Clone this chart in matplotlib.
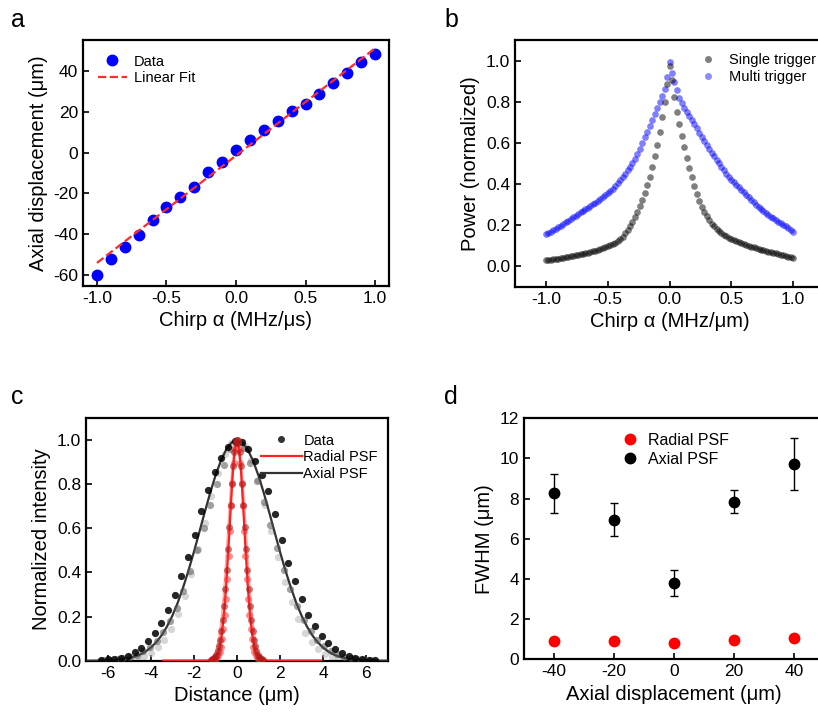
import numpy as np
import matplotlib
matplotlib.use('Agg')
from matplotlib import pyplot as plt
from matplotlib.lines import Line2D

plt.rcParams['font.family'] = ['Liberation Sans', 'DejaVu Sans']
plt.rcParams['axes.linewidth'] = 1.6
plt.rcParams['xtick.direction'] = 'in'
plt.rcParams['ytick.direction'] = 'in'
plt.rcParams['xtick.major.width'] = 1.2
plt.rcParams['ytick.major.width'] = 1.2
plt.rcParams['xtick.major.size'] = 4
plt.rcParams['ytick.major.size'] = 4

# ---- a: 轴向位移 vs 啁啾
chirp_a = [-1.0, -0.9, -0.8, -0.7, -0.6, -0.5, -0.4, -0.3, -0.2, -0.1, 0.0,
           0.1, 0.2, 0.3, 0.4, 0.5, 0.6, 0.7, 0.8, 0.9, 1.0]
disp_a = [-60.0, -52.3, -46.3, -40.3, -33.2, -26.7, -21.8, -16.9, -9.6, -4.4, 1.2,
          6.2, 11.0, 15.7, 20.6, 24.0, 28.9, 34.3, 39.0, 44.2, 48.3]
fit_x = [-1.0, 1.0]
fit_y = [-54.1, 51.1]

# ---- b: 单触发 / 多触发 归一化功率
chirp_b = np.round(np.arange(-1.0, 1.0001, 0.02), 2)
single_trig = [0.030, 0.031, 0.033, 0.035, 0.036, 0.038, 0.040, 0.042, 0.044, 0.046,
               0.049, 0.051, 0.053, 0.056, 0.058, 0.061, 0.064, 0.067, 0.070, 0.073,
               0.077, 0.080, 0.084, 0.088, 0.093, 0.098, 0.103, 0.109, 0.116, 0.124,
               0.133, 0.145, 0.160, 0.178, 0.196, 0.218, 0.240, 0.266, 0.294, 0.324,
               0.358, 0.395, 0.436, 0.482, 0.535, 0.592, 0.655, 0.725, 0.800, 0.885,
               0.975,
               0.905, 0.825, 0.750, 0.690, 0.635, 0.580, 0.528, 0.478, 0.432, 0.390,
               0.352, 0.318, 0.290, 0.265, 0.243, 0.225, 0.208, 0.194, 0.182, 0.171,
               0.162, 0.154, 0.147, 0.140, 0.134, 0.128, 0.123, 0.118, 0.113, 0.108,
               0.104, 0.100, 0.096, 0.092, 0.088, 0.085, 0.081, 0.078, 0.075, 0.072,
               0.069, 0.066, 0.063, 0.061, 0.056, 0.053, 0.050, 0.047, 0.044, 0.041]
multi_trig = [0.155, 0.162, 0.168, 0.175, 0.182, 0.190, 0.198, 0.206, 0.214, 0.222,
              0.230, 0.238, 0.246, 0.254, 0.262, 0.270, 0.278, 0.286, 0.294, 0.302,
              0.310, 0.319, 0.328, 0.337, 0.346, 0.355, 0.366, 0.378, 0.391, 0.405,
              0.420, 0.434, 0.450, 0.466, 0.482, 0.500, 0.522, 0.546, 0.572, 0.598,
              0.627, 0.655, 0.684, 0.712, 0.740, 0.768, 0.797, 0.828, 0.862, 0.920,
              0.995,
              0.940, 0.895, 0.855, 0.820, 0.792, 0.770, 0.750, 0.730, 0.710, 0.690,
              0.670, 0.650, 0.630, 0.610, 0.590, 0.572, 0.553, 0.535, 0.517, 0.500,
              0.484, 0.467, 0.451, 0.435, 0.420, 0.408, 0.396, 0.384, 0.372, 0.360,
              0.348, 0.336, 0.324, 0.312, 0.300, 0.290, 0.280, 0.270, 0.260, 0.250,
              0.242, 0.234, 0.226, 0.218, 0.210, 0.202, 0.194, 0.185, 0.176, 0.168]

# ---- c: 轴向/径向 PSF
ax_dark_x = [-6.30, -5.99, -5.68, -5.37, -5.06, -4.75, -4.44, -4.13, -3.82, -3.51,
             -3.20, -2.89, -2.58, -2.27, -1.96, -1.65, -1.34, -1.03, -0.72, -0.41,
             -0.10, 0.21, 0.52, 0.83, 1.14, 1.45, 1.76, 2.07, 2.38, 2.69,
             3.00, 3.31, 3.62, 3.93, 4.24, 4.55, 4.86, 5.17, 5.48, 5.79, 6.10, 6.41]
ax_dark_y = [0.003, 0.006, 0.009, 0.013, 0.023, 0.038, 0.058, 0.088, 0.124, 0.170,
             0.228, 0.300, 0.385, 0.472, 0.570, 0.680, 0.775, 0.855, 0.920, 0.970,
             0.995, 0.990, 0.960, 0.905, 0.840, 0.770, 0.665, 0.548, 0.445, 0.362,
             0.280, 0.205, 0.158, 0.110, 0.080, 0.052, 0.036, 0.022, 0.013, 0.008, 0.005, 0.003]
ax_mid_x = [-6.20, -5.89, -5.58, -5.27, -4.96, -4.65, -4.34, -4.03, -3.72, -3.41,
            -3.10, -2.79, -2.48, -2.17, -1.86, -1.55, -1.24, -0.93, -0.62, -0.31,
            0.00, 0.31, 0.62, 0.93, 1.24, 1.55, 1.86, 2.17, 2.48, 2.79,
            3.10, 3.41, 3.72, 4.03, 4.34, 4.65, 4.96, 5.27, 5.58, 5.89, 6.20]
ax_mid_y = [0.003, 0.005, 0.008, 0.012, 0.018, 0.028, 0.042, 0.062, 0.090, 0.128,
            0.178, 0.240, 0.318, 0.405, 0.500, 0.600, 0.705, 0.800, 0.885, 0.960,
            1.000, 0.965, 0.895, 0.815, 0.720, 0.615, 0.510, 0.412, 0.325, 0.248,
            0.185, 0.135, 0.095, 0.066, 0.045, 0.030, 0.019, 0.012, 0.008, 0.005, 0.003]
ax_light_x = [-6.15, -5.84, -5.53, -5.22, -4.91, -4.60, -4.29, -3.98, -3.67, -3.36,
              -3.05, -2.74, -2.43, -2.12, -1.81, -1.50, -1.19, -0.88, -0.57, -0.26,
              0.05, 0.36, 0.67, 0.98, 1.29, 1.60, 1.91, 2.22, 2.53, 2.84,
              3.15, 3.46, 3.77, 4.08, 4.39, 4.70, 5.01, 5.32, 5.63, 5.94, 6.25]
ax_light_y = [0.001, 0.001, 0.002, 0.003, 0.007, 0.012, 0.022, 0.037, 0.061, 0.095,
              0.144, 0.210, 0.293, 0.393, 0.506, 0.626, 0.745, 0.851, 0.935, 0.986,
              0.999, 0.973, 0.911, 0.819, 0.707, 0.587, 0.468, 0.359, 0.264, 0.187,
              0.127, 0.083, 0.052, 0.031, 0.018, 0.010, 0.005, 0.003, 0.001, 0.001, 0.001]

rad_a_x = [-1.20, -1.14, -1.08, -1.02, -0.96, -0.90, -0.84, -0.78, -0.72, -0.66,
           -0.60, -0.54, -0.48, -0.42, -0.36, -0.30, -0.24, -0.18, -0.12, -0.06,
           0.00, 0.06, 0.12, 0.18, 0.24, 0.30, 0.36, 0.42, 0.48, 0.54,
           0.60, 0.66, 0.72, 0.78, 0.84, 0.90, 0.96, 1.02, 1.08, 1.14, 1.20]
rad_a_y = [0.004, 0.007, 0.011, 0.018, 0.028, 0.044, 0.066, 0.095, 0.135, 0.186,
           0.249, 0.324, 0.411, 0.506, 0.606, 0.707, 0.801, 0.882, 0.946, 0.986,
           1.000, 0.986, 0.946, 0.882, 0.801, 0.707, 0.606, 0.506, 0.411, 0.324,
           0.249, 0.186, 0.135, 0.095, 0.066, 0.044, 0.028, 0.018, 0.011, 0.007, 0.004]
rad_b_x = [-1.17, -1.11, -1.05, -0.99, -0.93, -0.87, -0.81, -0.75, -0.69, -0.63,
           -0.57, -0.51, -0.45, -0.39, -0.33, -0.27, -0.21, -0.15, -0.09, -0.03,
           0.03, 0.09, 0.15, 0.21, 0.27, 0.33, 0.39, 0.45, 0.51, 0.57,
           0.63, 0.69, 0.75, 0.81, 0.87, 0.93, 0.99, 1.05, 1.11, 1.17]
rad_b_y = [0.001, 0.002, 0.005, 0.008, 0.015, 0.025, 0.041, 0.064, 0.098, 0.144,
           0.205, 0.281, 0.372, 0.476, 0.588, 0.700, 0.806, 0.896, 0.961, 0.996,
           0.996, 0.961, 0.896, 0.806, 0.700, 0.588, 0.476, 0.372, 0.281, 0.205,
           0.144, 0.098, 0.064, 0.041, 0.025, 0.015, 0.008, 0.005, 0.002, 0.001]

axial_fit_x = [-7.0, -6.5, -6.0, -5.75, -5.5, -5.25, -5.0, -4.75, -4.5, -4.25, -4.0,
               -3.75, -3.5, -3.25, -3.0, -2.75, -2.5, -2.25, -2.0, -1.75, -1.5,
               -1.25, -1.0, -0.75, -0.5, -0.25, 0.0, 0.25, 0.5, 0.75, 1.0,
               1.25, 1.5, 1.75, 2.0, 2.25, 2.5, 2.75, 3.0, 3.25, 3.5,
               3.75, 4.0, 4.25, 4.5, 4.75, 5.0, 5.25, 5.5, 5.75, 6.0, 6.5, 7.0]
axial_fit_y = [0.0001, 0.0006, 0.0017, 0.0029, 0.0047, 0.0076, 0.0119, 0.0184, 0.0277, 0.0408, 0.0588,
               0.083, 0.114, 0.154, 0.203, 0.262, 0.331, 0.408, 0.492, 0.581, 0.671,
               0.758, 0.838, 0.905, 0.957, 0.989, 1.0, 0.989, 0.957, 0.905, 0.838,
               0.758, 0.671, 0.581, 0.492, 0.408, 0.331, 0.262, 0.203, 0.154, 0.114,
               0.083, 0.0588, 0.0408, 0.0277, 0.0184, 0.0119, 0.0076, 0.0047, 0.0029, 0.0017, 0.0006, 0.0001]
radial_fit_x = [-3.4, -2.0, -1.5, -1.4, -1.3, -1.2, -1.1, -1.0, -0.9, -0.8, -0.7, -0.6,
                -0.5, -0.4, -0.3, -0.2, -0.1, 0.0, 0.1, 0.2, 0.3, 0.4, 0.5,
                0.6, 0.7, 0.8, 0.9, 1.0, 1.1, 1.2, 1.3, 1.4, 1.5, 2.0, 3.9]
radial_fit_y = [0.0, 0.0, 0.0, 0.0002, 0.0007, 0.002, 0.0053, 0.0132, 0.030, 0.0626, 0.120, 0.211,
                0.339, 0.500, 0.677, 0.841, 0.958, 1.0, 0.958, 0.841, 0.677, 0.500, 0.339,
                0.211, 0.120, 0.0626, 0.030, 0.0132, 0.0053, 0.002, 0.0007, 0.0002, 0.0, 0.0, 0.0]
radial_fit2_y = [0.0, 0.0, 0.0004, 0.001, 0.003, 0.007, 0.015, 0.031, 0.061, 0.109, 0.183, 0.288,
                 0.421, 0.575, 0.732, 0.871, 0.966, 1.0, 0.966, 0.871, 0.732, 0.575, 0.421,
                 0.288, 0.183, 0.109, 0.061, 0.031, 0.015, 0.007, 0.003, 0.001, 0.0004, 0.0, 0.0]

# ---- d: FWHM vs 轴向位移
disp_d = [-40, -20, 0, 20, 40]
fwhm_radial = [0.93, 0.91, 0.81, 0.95, 1.08]
fwhm_axial = [8.27, 6.95, 3.80, 7.84, 9.73]
fwhm_axial_err = [0.97, 0.82, 0.67, 0.58, 1.30]

fig = plt.figure(figsize=(8.18, 7.16), dpi=100)
tick_fs = 12.5
label_fs = 14.5
leg_fs = 10.5

# a
ax1 = fig.add_axes([0.1015, 0.6006, 0.374, 0.3436])
ax1.plot(chirp_a, disp_a, 'o', color='blue', markersize=7.5, label='Data', zorder=2)
ax1.plot(fit_x, fit_y, '--', color='#ff2a2a', linewidth=1.6, label='Linear Fit', zorder=3)
ax1.set_xlim(-1.1, 1.1)
ax1.set_ylim(-65.4, 55.2)
ax1.set_xticks([-1.0, -0.5, 0.0, 0.5, 1.0])
ax1.set_xticklabels(['-1.0', '-0.5', '0.0', '0.5', '1.0'])
ax1.set_yticks([-60, -40, -20, 0, 20, 40])
ax1.set_yticklabels(['-60', '-40', '-20', '0', '20', '40'])
ax1.set_xlabel('Chirp α (MHz/μs)', fontsize=label_fs)
ax1.set_ylabel('Axial displacement (μm)', fontsize=label_fs)
ax1.legend(loc='upper left', frameon=False, fontsize=leg_fs, handlelength=2.0,
           handletextpad=0.5, borderaxespad=0.6, labelspacing=0.2)

# b
ax2 = fig.add_axes([0.6296, 0.5992, 0.3778, 0.345])
ax2.plot(chirp_b, multi_trig, 'o', color='blue', alpha=0.5, markersize=4.8,
         markeredgewidth=0, zorder=2)
ax2.plot(chirp_b, single_trig, 'o', color='black', alpha=0.5, markersize=4.8,
         markeredgewidth=0, zorder=3)
ax2.plot([], [], 'o', color='black', alpha=0.5, markersize=5, markeredgewidth=0, label='Single trigger')
ax2.plot([], [], 'o', color='blue', alpha=0.45, markersize=5, markeredgewidth=0, label='Multi trigger')
ax2.set_xlim(-1.25, 1.25)
ax2.set_ylim(-0.1, 1.1)
ax2.set_xticks([-1.0, -0.5, 0.0, 0.5, 1.0])
ax2.set_xticklabels(['-1.0', '-0.5', '0.0', '0.5', '1.0'])
ax2.set_yticks([0.0, 0.2, 0.4, 0.6, 0.8, 1.0])
ax2.set_xlabel('Chirp α (MHz/μm)', fontsize=label_fs)
ax2.set_ylabel('Power (normalized)', fontsize=label_fs)
ax2.legend(loc='upper right', bbox_to_anchor=(1.015, 1.0), frameon=False, fontsize=leg_fs,
           handlelength=1.2, labelspacing=0.2)

# c
ax3 = fig.add_axes([0.1051, 0.0772, 0.3692, 0.339])
ax3.plot(ax_light_x, ax_light_y, 'o', color='#bbbbbb', alpha=0.6, markersize=5.2,
         markeredgewidth=0, zorder=2)
ax3.plot(axial_fit_x, axial_fit_y, '-', color='#333333', linewidth=1.6, zorder=3, label='Axial PSF')
ax3.plot(ax_mid_x, ax_mid_y, 'o', color='#555555', alpha=0.55, markersize=5.2,
         markeredgewidth=0, zorder=4)
ax3.plot(ax_dark_x, ax_dark_y, 'o', color='black', alpha=0.85, markersize=5.2,
         markeredgewidth=0, zorder=4)
ax3.plot(radial_fit_x, radial_fit2_y, '-', color='#ff4040', alpha=0.45, linewidth=2.2, zorder=3)
ax3.plot(radial_fit_x, radial_fit_y, '-', color='#ff2020', linewidth=1.6, zorder=3, label='Radial PSF')
ax3.plot(rad_b_x, rad_b_y, 'o', color='#ff3030', alpha=0.55, markersize=5,
         markeredgewidth=0, zorder=4)
ax3.plot(rad_a_x, rad_a_y, 'o', color='#b01818', alpha=0.6, markersize=5,
         markeredgewidth=0, zorder=4)
ax3.plot([], [], 'o', color='#333333', markersize=4, label='Data')
ax3.set_xlim(-7, 7)
ax3.set_ylim(0, 1.1)
ax3.set_xticks([-6, -4, -2, 0, 2, 4, 6])
ax3.set_xticklabels(['-6', '-4', '-2', '0', '2', '4', '6'])
ax3.set_yticks([0.0, 0.2, 0.4, 0.6, 0.8, 1.0])
ax3.set_xlabel('Distance (μm)', fontsize=label_fs)
ax3.set_ylabel('Normalized intensity', fontsize=label_fs)
h, l = ax3.get_legend_handles_labels()
order = [l.index('Data'), l.index('Radial PSF'), l.index('Axial PSF')]
ax3.legend([h[i] for i in order], [l[i] for i in order], loc='upper right',
           bbox_to_anchor=(1.01, 0.99), frameon=False, fontsize=leg_fs,
           handlelength=2.8, handletextpad=0.1, labelspacing=0.2)

# d
ax4 = fig.add_axes([0.6406, 0.0792, 0.3667, 0.3366])
ax4.plot(disp_d, fwhm_radial, 'o', color='red', markersize=7.5)
ax4.errorbar(disp_d, fwhm_axial, yerr=fwhm_axial_err, fmt='o', color='black',
             markersize=7.5, elinewidth=1, capsize=3, capthick=1)
leg_d = [Line2D([], [], marker='o', linestyle='none', color='red', markersize=7.5),
         Line2D([], [], marker='o', linestyle='none', color='black', markersize=7.5)]
ax4.set_xlim(-50, 50)
ax4.set_ylim(0, 12)
ax4.set_xticks([-40, -20, 0, 20, 40])
ax4.set_xticklabels(['-40', '-20', '0', '20', '40'])
ax4.set_yticks([0, 2, 4, 6, 8, 10, 12])
ax4.set_xlabel('Axial displacement (μm)', fontsize=label_fs)
ax4.set_ylabel('FWHM (μm)', fontsize=label_fs)
ax4.legend(leg_d, ['Radial PSF', 'Axial PSF'], loc='upper left', bbox_to_anchor=(0.28, 1.0),
           frameon=False, fontsize=leg_fs + 1, handlelength=1.0, handletextpad=0.6,
           labelspacing=0.25)

for ax in [ax1, ax2, ax3, ax4]:
    ax.tick_params(labelsize=tick_fs, top=False, right=False)

fig.text(0.014, 0.962, 'a', fontsize=18)
fig.text(0.543, 0.962, 'b', fontsize=18)
fig.text(0.014, 0.436, 'c', fontsize=18)
fig.text(0.543, 0.436, 'd', fontsize=18)

fig.savefig('out.png', dpi=100)
